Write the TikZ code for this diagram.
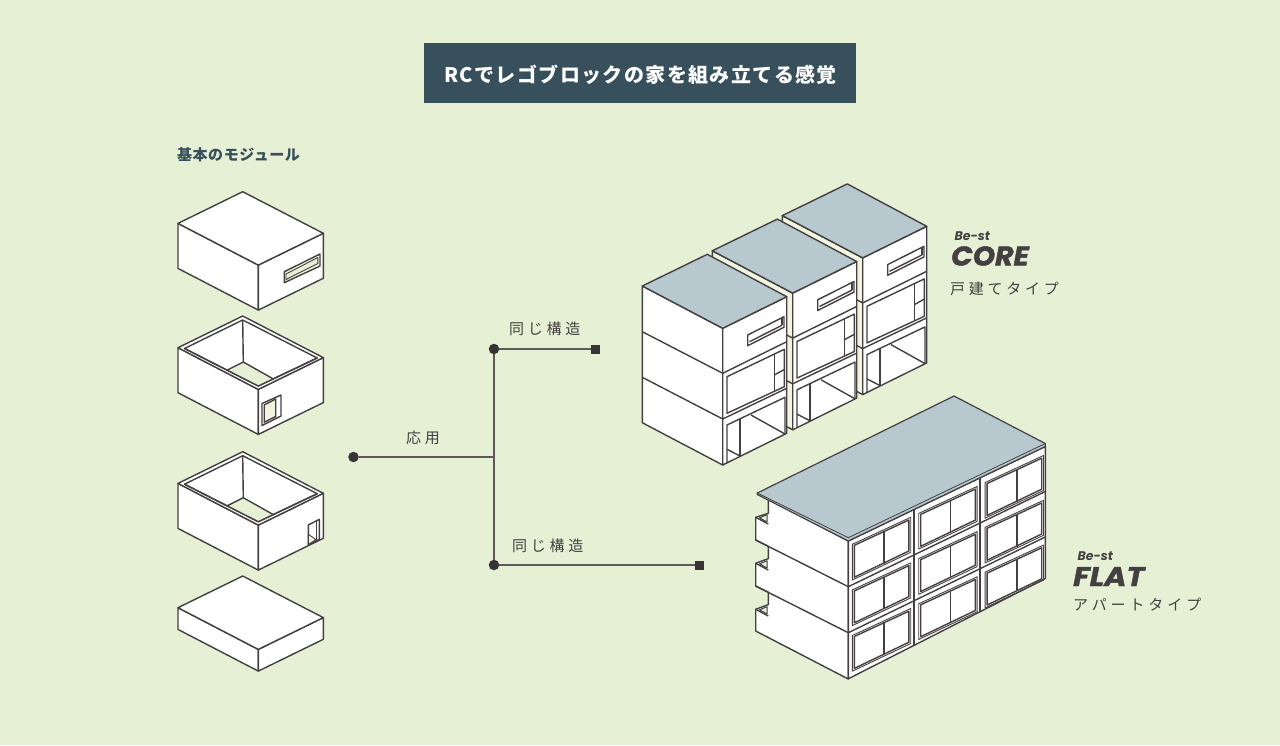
\documentclass[tikz,border=0pt]{standalone}
\usepackage{fontspec}
\newfontfamily\jp{Noto Sans CJK JP}
\newfontfamily\jptitle{Noto Sans CJK JP}[LetterSpace=7]
\newfontfamily\jpmod{Noto Sans CJK JP}[LetterSpace=3.5]
\newfontfamily\jplab{Noto Sans CJK JP}[LetterSpace=25]
\newfontfamily\jpwide{Noto Sans CJK JP}[LetterSpace=26]
\newfontfamily\logofont{Poppins}
\newfontfamily\logocore{Poppins}[FakeBold=1.5,FakeStretch=1.05]
\newfontfamily\logoflat{Poppins}[FakeBold=1.5,FakeStretch=1.12]
\definecolor{bgc}{HTML}{E6F0D5}
\definecolor{titlec}{HTML}{37505B}
\definecolor{roofc}{HTML}{B7C8CF}
\definecolor{ink}{HTML}{444041}
\definecolor{wire}{HTML}{5E585A}
\definecolor{dotc}{HTML}{3A3335}
\definecolor{gapc}{HTML}{F1F5E0}
\tikzset{
  outl/.style={draw=ink,line width=1.4pt,line join=round,fill=white},
  thinl/.style={draw=ink,line width=1.4pt,line join=round},
  txt/.style={inner sep=0pt,anchor=base west,text=ink},
  wireline/.style={draw=wire,line width=1.6pt},
  rounddot/.style={circle,fill=dotc,minimum size=10.5pt,inner sep=0pt},
  squaredot/.style={rectangle,fill=dotc,minimum size=9pt,inner sep=0pt}
}
% module box: top y, height
\newcommand\modbox[2]{%
  \path[outl] (178,#1+31.7) -- (258.3,#1+73.4) -- (258.3,#1+73.4+#2) -- (178,#1+31.7+#2) -- cycle;
  \path[outl] (258.3,#1+73.4) -- (323.3,#1+41.6) -- (323.3,#1+41.6+#2) -- (258.3,#1+73.4+#2) -- cycle;
  \path[outl] (242.7,#1) -- (178,#1+31.7) -- (258.3,#1+73.4) -- (323.3,#1+41.6) -- cycle;
}
\newcommand\openbox[1]{%
  \path[thinl] (242.7,#1+4) -- (184.5,#1+32.5) -- (258.3,#1+70) -- (317.2,#1+42) -- cycle;
  \path[fill=bgc] (243.3,#1+46) -- (274,#1+63.3) -- (258.3,#1+70) -- (227.3,#1+54) -- cycle;
  \path[thinl] (227.3,#1+54) -- (243.3,#1+46) -- (274,#1+63.3);
  \path[thinl] (242.7,#1+4) -- (243.3,#1+46);
  \path[thinl] (184.5,#1+32.5) -- (258.3,#1+70) -- (317.2,#1+42);
}
% one house of CORE, in the coordinates of the front house
\newcommand\corehouse[2]{%
  \begin{scope}[shift={(#1)}]
    \path[outl,fill=#2] (642.3,286) -- (722.7,328.3) -- (722.7,465) -- (642.3,422.7) -- cycle;
    \path[thinl] (642.3,331.7) -- (722.7,373.3);
    \path[thinl] (642.3,377.3) -- (722.7,419);
    \path[outl] (722.7,328.3) -- (786.7,296.7) -- (786.7,433.3) -- (722.7,465) -- cycle;
    \path[thinl] (722.7,373.3) -- (786.7,341.7);
    \path[thinl] (722.7,419) -- (786.7,388.3);
    \path[fill=roofc,draw=ink,line width=1.4pt,line join=round] (707.3,254.3) -- (642.3,286) -- (722.7,328.3) -- (786.7,296.7) -- cycle;
    % slit window
    \path[thinl] (747.7,335) -- (784,316.7) -- (784,327.3) -- (747.7,345.7) -- cycle;
    \path[thinl] (749.5,341.7) -- (782,325.3);
    \path[thinl] (782,318) -- (782,325.3);
    % middle floor
    \path[thinl] (727,376.7) -- (784.3,349.3) -- (784.3,386.7) -- (727,413.3) -- cycle;
    \path[thinl] (774.3,354.3) -- (774.3,391.7);
    \path[thinl] (774.3,375) -- (784.3,369.5);
    % ground floor
    \path[thinl] (727,462.8) -- (727,425) -- (785,397.3) -- (785,434);
    \path[thinl] (740,419) -- (740,456);
    \path[thinl] (751,415) -- (785,434);
    \path[thinl] (727,449.3) -- (740,456);
  \end{scope}
}
\newcommand\flatcell[2]{%
  \begin{scope}[shift={(66.4*#1,-30.9*#1+45.6*#2-0.4*#1*#2)}]
    \path[draw=ink,line width=.9pt,line join=round] (852.3,544.3) -- (910.7,517.3) -- (910.7,552.3) -- (852.3,580) -- cycle;
    \path[thinl] (854.3,545.3) -- (908.9,520) -- (908.9,551) -- (854.3,577.2) -- cycle;
    \path[thinl] (884,531) -- (884,563.5);
  \end{scope}
}
\newcommand\balcony[1]{%
  \begin{scope}[shift={(0,#1)}]
    \path[thinl] (755.7,517.3) -- (768.3,524);
    \path[draw=ink,line width=1pt,fill=bgc,line join=round] (759.5,517.8) -- (767,514.7) -- (767,522) -- cycle;
  \end{scope}
}
\begin{document}
\begin{tikzpicture}[x=1pt,y=-1pt]
\path[use as bounding box,fill=bgc] (0,0) rectangle (1280,745);

% title
\path[fill=titlec] (424,43) rectangle (856,103);
\node[txt,text=white] (title) at (444,82) {\jptitle\fontsize{20}{24}\selectfont\bfseries RCでレゴブロックの家を組み立てる感覚};
\node[txt,text=titlec] (modlabel) at (177,160) {\jpmod\fontsize{15}{18}\selectfont\bfseries 基本のモジュール};

% modules
\modbox{191.7}{45}
\path[thinl,fill=gapc] (284.3,271.7) -- (320,254) -- (320,266) -- (284.3,282.7) -- cycle;
\path[fill=bgc,draw=ink,line width=.9pt,line join=round] (286,274) -- (317.8,257.5) -- (317.8,263.5) -- (286,279.5) -- cycle;

\modbox{316}{45}
\openbox{316}
\path[thinl,fill=white] (262,403.5) -- (281,395) -- (281,416) -- (262,425.5) -- cycle;
\path[thinl,fill=gapc] (264.2,405) -- (275.7,399) -- (275.7,416.5) -- (264.2,422.2) -- cycle;

\modbox{451.7}{45}
\openbox{451.7}
\path[thinl,fill=white] (308.3,525) -- (319.3,519.3) -- (319.3,539.3) -- (308.3,545) -- cycle;
\path[fill=gapc,draw=ink,line width=.9pt,line join=round] (308.3,534.3) -- (316,539.6) -- (308.3,544.5) -- cycle;
\path[thinl] (316.7,520.6) -- (316.7,540.5);

\modbox{576}{21.7}

% connectors
\node[rounddot] (start) at (353.5,457) {};
\node[rounddot] (up) at (494,349) {};
\node[rounddot] (down) at (494,565) {};
\node[squaredot] (coreend) at (595.3,349) {};
\node[squaredot] (flatend) at (699.6,565) {};
\coordinate (junction) at (494,457);
\draw[wireline] (start) -- (junction);
\draw[wireline] (up) -- (down);
\draw[wireline] (up) -- (coreend);
\draw[wireline] (down) -- (flatend);
\node[txt] (applied) at (406,443.5) {\jplab\fontsize{15}{18}\selectfont 応用};
\node[txt] (samecore) at (509,334) {\jplab\fontsize{15}{18}\selectfont 同じ構造};
\node[txt] (sameflat) at (512,551) {\jplab\fontsize{15}{18}\selectfont 同じ構造};

% CORE
\corehouse{140,-70.4}{gapc}
\corehouse{70,-35.2}{gapc}
\corehouse{0,0}{white}

% FLAT
\path[outl] (768.3,499) -- (848.3,541) -- (848.3,679) -- (755.7,631) -- (755.7,609.3) -- (768.3,604.6) -- (768.3,592.3) -- (755.7,586) -- (755.7,563.3) -- (768.3,558.6) -- (768.3,546.3) -- (755.7,540) -- (755.7,517.3) -- (768.3,513.3) -- cycle;
\path[thinl] (755.7,540) -- (848.3,586.7);
\path[thinl] (755.7,586) -- (848.3,632.7);
\balcony{0}
\balcony{46}
\balcony{92}
\path[outl] (848.3,541) -- (1045.3,446.5) -- (1045.3,578.5) -- (848.3,678.8) -- cycle;
\path[thinl] (848.3,586.7) -- (1045.3,491.5);
\path[thinl] (848.3,632.7) -- (1045.3,537);
\path[thinl] (914,509.5) -- (914,645);
\path[thinl] (980,477.8) -- (980,612);
\foreach \c in {0,1,2}{\foreach \r in {0,1,2}{\flatcell{\c}{\r}}}
\path[fill=roofc,draw=ink,line width=1.2pt,line join=round] (954,396) -- (757.3,493) -- (757.3,494.5) -- (848.3,541) -- (1045.3,446.5) -- (1045.3,443.5) -- cycle;
\path[draw=ink,line width=.8pt] (757.3,493) -- (848.3,537.7) -- (1045.3,443.5);

% labels
\node[txt] (core1) at (954.5,240) {\logofont\fontsize{12.5}{14}\selectfont\bfseries\itshape Be-st};
\node[txt] (core2) at (951,265.5) {\logocore\fontsize{27}{30}\selectfont\bfseries\itshape CORE};
\node[txt] (core3) at (950,294.5) {\jplab\fontsize{15}{18}\selectfont 戸建てタイプ};
\node[txt] (flat1) at (1077.5,560.5) {\logofont\fontsize{12.5}{14}\selectfont\bfseries\itshape Be-st};
\node[txt] (flat2) at (1073,586) {\logoflat\fontsize{27}{30}\selectfont\bfseries\itshape FLAT};
\node[txt] (flat3) at (1073,610) {\jpwide\fontsize{15}{18}\selectfont アパートタイプ};
\end{tikzpicture}
\end{document}
